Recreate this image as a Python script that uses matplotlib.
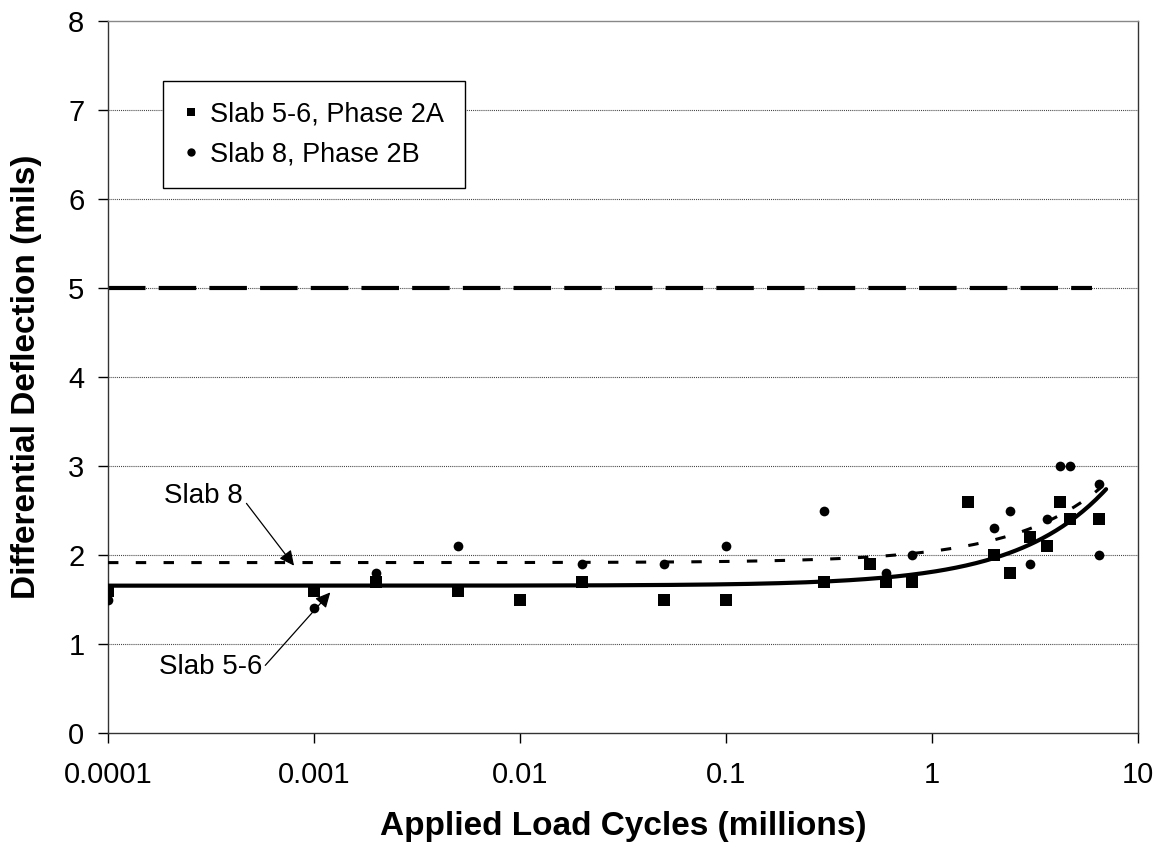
import numpy as np
import matplotlib
matplotlib.use('Agg')
import matplotlib.pyplot as plt
from matplotlib.lines import Line2D

plt.rcParams['font.family'] = ['Liberation Sans', 'DejaVu Sans']
plt.rcParams['lines.scale_dashes'] = False

# measured joint deflections (applied load cycles in millions, deflection in mils)
slab56_x = [0.0001, 0.001, 0.002, 0.005, 0.01, 0.02, 0.05, 0.1, 0.3, 0.5,
            0.6, 0.8, 1.5, 2.0, 2.4, 3.0, 3.6, 4.2, 4.7, 6.5]
slab56_y = [1.6, 1.6, 1.7, 1.6, 1.5, 1.7, 1.5, 1.5, 1.7, 1.9,
            1.7, 1.7, 2.6, 2.0, 1.8, 2.2, 2.1, 2.6, 2.4, 2.4]

slab8_x = [0.0001, 0.001, 0.002, 0.005, 0.02, 0.05, 0.1, 0.3, 0.6,
           0.8, 2.0, 2.4, 3.0, 3.6, 4.2, 4.7, 6.5, 6.5]
slab8_y = [1.5, 1.4, 1.8, 2.1, 1.9, 1.9, 2.1, 2.5, 1.8,
           2.0, 2.3, 2.5, 1.9, 2.4, 3.0, 3.0, 2.8, 2.0]

# trend lines run a little past the last reading
slab56_trend_end = 7.0
slab8_trend_end = 6.6

limit_x = [0.0001, 6.0]
limit_y = [5.0, 5.0]

xticks = [0.0001, 0.001, 0.01, 0.1, 1, 10]
xtick_labels = ['0.0001', '0.001', '0.01', '0.1', '1', '10']
yticks = [0, 1, 2, 3, 4, 5, 6, 7, 8]

fig = plt.figure(figsize=(11.66, 8.46), dpi=100)
ax = fig.add_axes([108/1166, 113/846, 1030/1166, 712/846])

ax.set_xscale('log')
ax.set_xlim(0.0001, 10)
ax.set_ylim(0, 8)

# dotted horizontal gridlines
for y in yticks[1:-1]:
    ax.axhline(y, color='#444444', lw=0.8, dashes=(0.75, 0.75), zorder=1)

# 5 mil limit
ax.plot(limit_x, limit_y, color='black', lw=3.0, dashes=(27, 9.5),
        solid_capstyle='butt', dash_capstyle='butt', zorder=2)

# linear trend lines fitted to each series
def trend(x, y, x_end):
    b, a = np.polyfit(x, y, 1)
    xs = np.logspace(np.log10(min(x)), np.log10(x_end), 300)
    return xs, a + b * xs

tx, ty = trend(slab56_x, slab56_y, slab56_trend_end)
ax.plot(tx, ty, color='black', lw=3.0, solid_capstyle='round', zorder=3)
tx, ty = trend(slab8_x, slab8_y, slab8_trend_end)
ax.plot(tx, ty, color='black', lw=2.2, dashes=(7.5, 12.5), dash_capstyle='butt', zorder=3)

ax.plot(slab56_x, slab56_y, 's', color='black', ms=8, mew=0, zorder=4)
ax.plot(slab8_x, slab8_y, 'o', color='black', ms=7, mew=0, zorder=4)

# curve labels
arrow = dict(arrowstyle='-|>,head_length=0.45,head_width=0.22', mutation_scale=20,
             color='black', lw=0.9, shrinkA=0, shrinkB=0)
ax.text(0.00045, 2.66, 'Slab 8', fontsize=20, ha='right', va='center')
ax.annotate('', xy=(0.00080, 1.88), xytext=(0.00047, 2.58), arrowprops=arrow)
ax.text(0.00056, 0.74, 'Slab 5-6', fontsize=20, ha='right', va='center')
ax.annotate('', xy=(0.0012, 1.58), xytext=(0.00058, 0.76), arrowprops=arrow)

ax.set_xticks(xticks)
ax.set_xticklabels(xtick_labels)
ax.xaxis.set_minor_locator(matplotlib.ticker.NullLocator())
ax.set_yticks(yticks)
ax.tick_params(axis='x', direction='out', length=7, width=1, pad=13, labelsize=21)
ax.tick_params(axis='y', direction='out', length=7, width=1, pad=10, labelsize=21)

for s in ax.spines.values():
    s.set_color('#333333')
    s.set_linewidth(1.0)
ax.spines['top'].set_color('#888888')

ax.set_xlabel('Applied Load Cycles (millions)', fontsize=24, fontweight='bold')
ax.set_ylabel('Differential Deflection (mils)', fontsize=24, fontweight='bold')
ax.xaxis.label.set_va('center')
ax.yaxis.label.set_va('center')
ax.xaxis.set_label_coords(0.5, -0.132)
ax.yaxis.set_label_coords(-0.079, 0.5)

handles = [Line2D([], [], ls='none', marker='s', color='black', ms=6, mew=0),
           Line2D([], [], ls='none', marker='o', color='black', ms=6, mew=0)]
leg = ax.legend(handles, ['Slab 5-6, Phase 2A', 'Slab 8, Phase 2B'],
                loc='upper left', bbox_to_anchor=(0.0534, 0.9157), borderaxespad=0,
                fontsize=19.5, frameon=True, fancybox=False, framealpha=1,
                edgecolor='black', handlelength=0.6, handletextpad=0.4,
                borderpad=0.75, labelspacing=0.52)
leg.get_frame().set_linewidth(1.0)
leg.set_zorder(5)

fig.savefig('out.png', dpi=100, facecolor='white')
